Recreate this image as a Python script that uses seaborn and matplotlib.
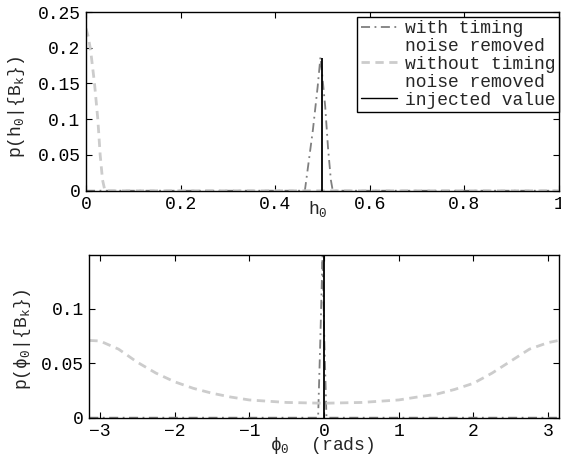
import numpy as np
import matplotlib
matplotlib.use("Agg")
import matplotlib.pyplot as plt
import seaborn as sns

# data
h0_with = [0.0, 0.44, 0.463, 0.47, 0.48, 0.49, 0.496, 0.50, 0.506, 0.512, 0.518, 0.522, 1.0]
p_h0_with = [0.0, 0.0, 0.0, 0.035, 0.085, 0.145, 0.187, 0.16, 0.118, 0.06, 0.015, 0.0, 0.0]

h0_without = [0.0, 0.005, 0.01, 0.018, 0.025, 0.03, 0.035, 0.04, 1.0]
p_h0_without = [0.227, 0.215, 0.195, 0.15, 0.10, 0.05, 0.015, 0.0, 0.0]

h0_injected = 0.5

phi_with = [-np.pi, -0.09, -0.079, -0.05, -0.02, 0.005, 0.033, 0.05, np.pi]
p_phi_with = [0.0, 0.0, 0.0, 0.07, 0.149, 0.07, 0.0, 0.0, 0.0]

phi_without = [-np.pi, -3.0, -2.75, -2.5, -2.25, -2.0, -1.75, -1.5, -1.25, -1.0, -0.5, 0.0,
               0.5, 1.0, 1.25, 1.5, 1.75, 2.0, 2.25, 2.5, 2.75, 3.0, np.pi]
p_phi_without = [0.071, 0.0705, 0.063, 0.051, 0.041, 0.033, 0.027, 0.0225, 0.019, 0.0163, 0.014, 0.0133,
                 0.014, 0.0163, 0.019, 0.0215, 0.026, 0.0316, 0.041, 0.052, 0.063, 0.069, 0.071]

phi_injected = 0.0

# legend rows (second line of a label gets an empty handle, like the MATLAB legend)
legend_rows = ["with timing", "noise removed", "without timing", "noise removed", "injected value"]

sns.set_style("ticks")
plt.rcParams["font.family"] = ["Liberation Mono", "DejaVu Sans"]
plt.rcParams["mathtext.fontset"] = "custom"
plt.rcParams["mathtext.rm"] = "Liberation Mono"
plt.rcParams["mathtext.it"] = "Liberation Mono"
plt.rcParams["font.size"] = 13

col_with = "#7f7f7f"
col_without = "#cccccc"
dash_with = (5, 2.5, 1, 2.5)
dash_without = (3, 2)

fig = plt.figure(figsize=(5.61, 4.57), dpi=100)
ax1 = fig.add_axes([0.1533, 0.5827, 0.8426, 0.3910])
ax2 = fig.add_axes([0.1592, 0.0860, 0.8367, 0.3560])

# ---- top panel: h0
sns.lineplot(x=h0_with, y=p_h0_with, ax=ax1, color=col_with, lw=1.3, sort=False)
sns.lineplot(x=h0_without, y=p_h0_without, ax=ax1, color=col_without, lw=2.0, sort=False)
ax1.lines[0].set_dashes(dash_with)
ax1.lines[1].set_dashes(dash_without)
ax1.vlines(h0_injected, 0, max(p_h0_with) - 0.002, color="black", lw=1.3)

ax1.set_xlim(0, 1)
ax1.set_ylim(0, 0.25)
ax1.set_xticks([0, 0.2, 0.4, 0.6, 0.8, 1])
ax1.set_xticklabels(["0", "0.2", "0.4", "0.6", "0.8", "1"])
ax1.set_yticks([0, 0.05, 0.1, 0.15, 0.2, 0.25])
ax1.set_yticklabels(["0", "0.05", "0.1", "0.15", "0.2", "0.25"])
ax1.set_xlabel(r"h$_0$")
ax1.set_ylabel(r"p(h$_0$|{B$_k$})")
ax1.xaxis.set_label_coords(0.49, -0.045)
ax1.yaxis.set_label_coords(-0.124, 0.47)

blank = plt.Line2D([], [], color="none")
leg_handles = [
    plt.Line2D([], [], color=col_with, lw=1.3, dashes=dash_with),
    blank,
    plt.Line2D([], [], color=col_without, lw=2.0, dashes=dash_without),
    blank,
    plt.Line2D([], [], color="black", lw=1.0),
]
leg = ax1.legend(leg_handles, legend_rows, loc="upper right", bbox_to_anchor=(1.0, 0.974),
                 borderaxespad=0, fancybox=False, framealpha=1, edgecolor="black",
                 handlelength=2.0, handletextpad=0.45, labelspacing=0.05, borderpad=0.18,
                 fontsize=13)
leg.get_frame().set_linewidth(1.0)

# ---- bottom panel: phi0
sns.lineplot(x=phi_with, y=p_phi_with, ax=ax2, color=col_with, lw=1.3, sort=False)
sns.lineplot(x=phi_without, y=p_phi_without, ax=ax2, color=col_without, lw=2.0, sort=False)
ax2.lines[0].set_dashes(dash_with)
ax2.lines[1].set_dashes(dash_without)
ax2.axvline(phi_injected, color="black", lw=1.3)

ax2.set_xlim(-np.pi, np.pi)
ax2.set_ylim(0, 0.1495)
ax2.set_xticks([-3, -2, -1, 0, 1, 2, 3])
ax2.set_xticklabels(["\u22123", "\u22122", "\u22121", "0", "1", "2", "3"])
ax2.set_yticks([0, 0.05, 0.1])
ax2.set_yticklabels(["0", "0.05", "0.1"])
ax2.set_xlabel(r"$\phi_0$  (rads)")
ax2.set_ylabel(r"p($\phi_0$|{B$_k$})")
ax2.xaxis.set_label_coords(0.495, -0.105)
ax2.yaxis.set_label_coords(-0.12, 0.484)

for ax in (ax1, ax2):
    for s in ax.spines.values():
        s.set_visible(True)
        s.set_linewidth(1.0)
        s.set_color("black")
    ax.tick_params(direction="in", length=4, width=0.8, top=True, right=True,
                   labelsize=13, pad=4, colors="black")

fig.savefig("out.png", dpi=100)
